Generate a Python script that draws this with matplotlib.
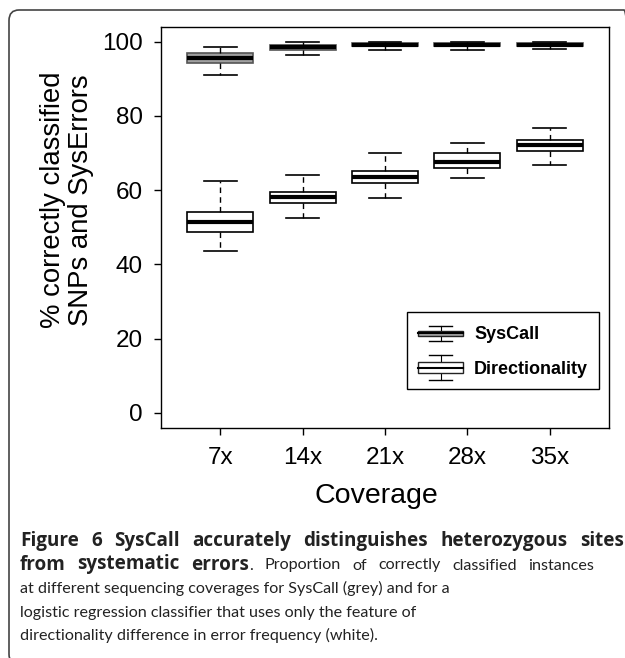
import matplotlib
matplotlib.use("Agg")
import matplotlib.pyplot as plt
from matplotlib.patches import Rectangle, FancyBboxPatch
from matplotlib.lines import Line2D
from matplotlib.legend_handler import HandlerBase
from matplotlib.font_manager import FontProperties

# data (percent correctly classified)
coverage = ["7x", "14x", "21x", "28x", "35x"]

syscall_low = [91.1, 96.5, 97.7, 97.8, 98.0]
syscall_q1 = [94.1, 97.8, 98.7, 98.7, 98.7]
syscall_med = [95.6, 98.6, 99.1, 99.1, 99.1]
syscall_q3 = [96.8, 99.2, 99.5, 99.5, 99.5]
syscall_high = [98.6, 100.0, 100.0, 100.0, 100.0]

dir_low = [43.5, 52.4, 57.8, 63.2, 66.8]
dir_q1 = [48.6, 56.4, 61.8, 65.9, 70.5]
dir_med = [51.3, 58.1, 63.6, 67.6, 72.2]
dir_q3 = [54.1, 59.5, 65.2, 69.9, 73.5]
dir_high = [62.5, 64.1, 70.1, 72.6, 76.6]

GREY = "#a0a0a0"
PLOT_FONT = "Liberation Sans"
CAP_FONT = "Lato"
CAP_BOLD = "Open Sans"
CAP_COLOR = "#222222"


def make_stats(lo, q1, med, q3, hi):
    return [dict(whislo=a, q1=b, med=c, q3=d, whishi=e, fliers=[])
            for a, b, c, d, e in zip(lo, q1, med, q3, hi)]


class BoxHandler(HandlerBase):
    def __init__(self, face, box_frac, cap_frac):
        super().__init__()
        self.face = face
        self.box_frac = box_frac
        self.cap_frac = cap_frac

    def create_artists(self, legend, orig_handle, xdescent, ydescent,
                       width, height, fontsize, trans):
        x0 = -xdescent
        cx = x0 + width / 2
        cy = -ydescent + height / 2
        bh = height * self.box_frac
        ch = height * self.cap_frac
        cw = width * 0.5
        arts = [
            Line2D([cx, cx], [cy - ch / 2, cy + ch / 2], color="black", lw=0.8,
                   transform=trans),
            Line2D([cx - cw / 2, cx + cw / 2], [cy + ch / 2] * 2, color="black",
                   lw=1, transform=trans),
            Line2D([cx - cw / 2, cx + cw / 2], [cy - ch / 2] * 2, color="black",
                   lw=1, transform=trans),
            Rectangle((x0, cy - bh / 2), width, bh, facecolor=self.face,
                      edgecolor="#222222", lw=1, transform=trans),
            Line2D([x0, x0 + width], [cy, cy], color="black", lw=1.5,
                   transform=trans),
        ]
        return arts


fig = plt.figure(figsize=(6.25, 6.58), dpi=100)
W, H = 625, 658
ax = fig.add_axes([161 / W, 1 - 427.7 / H, 448 / W, 401 / H])

pos = list(range(1, len(coverage) + 1))
common = dict(positions=pos, widths=0.8, capwidths=0.4, patch_artist=True,
              showfliers=False,
              medianprops=dict(color="black", lw=3, solid_capstyle="butt"),
              whiskerprops=dict(color="black", lw=1, linestyle=(0, (4, 3))),
              capprops=dict(color="black", lw=1.2))

ax.bxp(make_stats(dir_low, dir_q1, dir_med, dir_q3, dir_high),
       boxprops=dict(facecolor="white", edgecolor="black", lw=1.2), **common)
ax.bxp(make_stats(syscall_low, syscall_q1, syscall_med, syscall_q3, syscall_high),
       boxprops=dict(facecolor=GREY, edgecolor="#555555", lw=1.2), **common)

ax.set_xlim(0.28, 5.72)
ax.set_ylim(-4, 104)
ax.set_yticks([0, 20, 40, 60, 80, 100])
ax.set_xticks(pos)
ax.set_xticklabels(coverage)
for s in ax.spines.values():
    s.set_linewidth(1)
ax.tick_params(axis="both", length=5, width=1, labelsize=17.5, direction="out")
ax.tick_params(axis="x", pad=9)
ax.tick_params(axis="y", pad=8)
for lab in ax.get_xticklabels() + ax.get_yticklabels():
    lab.set_fontfamily(PLOT_FONT)

fig.text(67 / W, 1 - 200 / H, "% correctly classified\nSNPs and SysErrors",
         rotation=90, ha="center", va="center", fontsize=19.8,
         family=PLOT_FONT, linespacing=1.15, multialignment="center")
fig.text(376 / W, 1 - 503 / H, "Coverage", ha="center", va="baseline",
         fontsize=20.5, family=PLOT_FONT)

# legend
h_sys = Rectangle((0, 0), 1, 1)
h_dir = Rectangle((0, 0), 1, 1)
leg = ax.legend([h_sys, h_dir], ["SysCall", "Directionality"],
                handler_map={h_sys: BoxHandler(GREY, 0.25, 0.75),
                             h_dir: BoxHandler("white", 0.55, 1.2)},
                loc="lower right", bbox_to_anchor=(599 / W, 1 - 389 / H),
                bbox_transform=fig.transFigure,
                prop=dict(family=PLOT_FONT, weight="bold", size=13),
                handlelength=2.5, handleheight=1.4, handletextpad=0.6,
                labelspacing=0.75, borderpad=0.6, borderaxespad=0,
                fancybox=False, framealpha=1, edgecolor="black")
leg.get_frame().set_linewidth(1)

# caption (first two lines justified, the rest ragged)
cap_size = 11.6
fp_b = FontProperties(family=CAP_BOLD, weight="bold", size=13.6)
fp_r = FontProperties(family=CAP_FONT, size=cap_size)
renderer = fig.canvas.get_renderer()


def text_w(s, fp):
    return renderer.get_text_width_height_descent(s, fp, ismath=False)[0]


def put_line(words, y, x0, x1=None):
    # words: list of lists of (text, bold) pieces
    widths = [sum(text_w(t, fp_b if b else fp_r) for t, b in w) for w in words]
    gap = text_w(" ", fp_r) * 1.1
    if x1 is not None and len(words) > 1:
        gap = max(gap, (x1 - x0 - sum(widths)) / (len(words) - 1))
    x = x0
    for w, wd in zip(words, widths):
        xx = x
        for t, b in w:
            fig.text(xx / W, 1 - y / H, t, fontproperties=fp_b if b else fp_r,
                     va="baseline", color=CAP_COLOR)
            xx += text_w(t, fp_b if b else fp_r)
        x += wd + gap


line1 = "Figure 6 SysCall accurately distinguishes heterozygous sites"
put_line([[(w, True)] for w in line1.split()], 546, 20, 624)
line2 = ([[("from", True)], [("systematic", True)], [("errors", True), (".", False)]]
         + [[(w, False)] for w in "Proportion of correctly classified instances".split()])
put_line(line2, 569.5, 20, 594)

rest = ["at different sequencing coverages for SysCall (grey) and for a",
        "logistic regression classifier that uses only the feature of",
        "directionality difference in error frequency (white)."]
for i, line in enumerate(rest):
    fig.text(20 / W, 1 - (593 + 23.5 * i) / H, line, fontproperties=fp_r,
             va="baseline", color=CAP_COLOR)

# rounded frame around the whole figure
frame = FancyBboxPatch((9 / W, -0.01), 1.0, 1 - 10 / H + 0.01,
                       boxstyle="round,pad=0,rounding_size=0.016",
                       transform=fig.transFigure, facecolor="none",
                       edgecolor="#444444", lw=1.2)
fig.patches.append(frame)

fig.savefig("out.png", dpi=100)
